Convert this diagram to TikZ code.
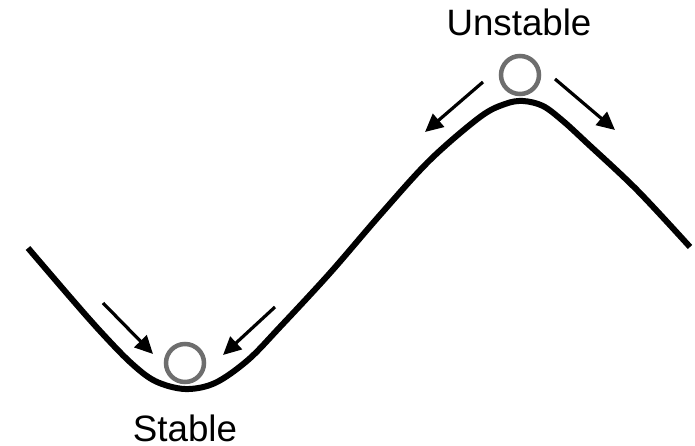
\documentclass[tikz,border=0pt]{standalone}
\usepackage{fontspec}
\setmainfont{Liberation Sans}
\usetikzlibrary{arrows.meta}
\definecolor{ballgray}{HTML}{6E6E6E}
\tikzset{
  landscape/.style={line width=6pt, line join=round, line cap=butt},
  ball/.style={circle, draw=ballgray, line width=4.5pt, minimum size=38pt, inner sep=0pt},
  pusharrow/.style={line width=3.2pt, -{Triangle[length=18pt,width=17pt]}},
  label/.style={font=\fontsize{36.7}{40}\selectfont, anchor=base, inner sep=0pt}
}
\begin{document}
\begin{tikzpicture}[x=1pt,y=-1pt]
\useasboundingbox (0,0) rectangle (695,446);
\draw[landscape] plot[smooth, tension=0.55] coordinates {
  (28,248) (70,297) (100,331) (130,362) (155,381) (185,389) (215,383)
  (248,360) (280,327) (330,273) (380,215) (430,160) (480,117) (505,104)
  (523,101) (543,106) (563,121) (587,143) (637,190) (690,247)};
\node[ball] (top) at (520,75) {};
\node[ball] (bottom) at (185,363) {};
\node[label] (unstable) at (519,36) {Unstable};
\node[label] (stable) at (185,441) {Stable};
\coordinate (a1s) at (483,82);  \coordinate (a1e) at (425,132);
\coordinate (a2s) at (555,79);  \coordinate (a2e) at (615,130);
\coordinate (a3s) at (103,303); \coordinate (a3e) at (153,354);
\coordinate (a4s) at (275,307); \coordinate (a4e) at (223,355);
\draw[pusharrow] (a1s) -- (a1e);
\draw[pusharrow] (a2s) -- (a2e);
\draw[pusharrow] (a3s) -- (a3e);
\draw[pusharrow] (a4s) -- (a4e);
\end{tikzpicture}
\end{document}
